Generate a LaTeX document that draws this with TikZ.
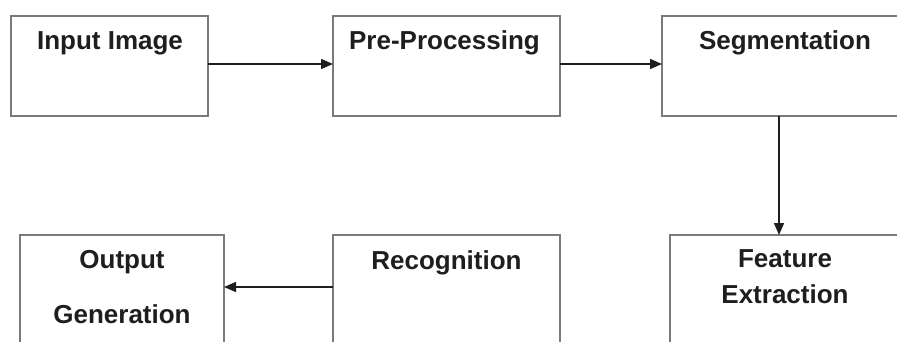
\documentclass[tikz,border=0pt]{standalone}
\usepackage{fontspec}
\setmainfont{Liberation Sans}
\usetikzlibrary{arrows.meta}
\definecolor{boxgray}{HTML}{7A7A7A}
\definecolor{inkc}{HTML}{1E1E1E}
\begin{document}
\begin{tikzpicture}[x=1pt,y=-1pt,
  box/.style={draw=boxgray, line width=1.6pt, inner sep=0pt, outer sep=0pt, fill=white},
  lbl/.style={anchor=base, inner sep=0pt, font=\fontsize{26}{30}\selectfont\bfseries, text=inkc},
  arr/.style={draw=inkc, line width=1.4pt, -{Triangle[length=12pt,width=10pt]}}]
\useasboundingbox (0,0) rectangle (897,342);
\fill[white] (0,0) rectangle (897,342);
\clip (0,0) rectangle (897,342);
% boxes
\node[box, minimum width=197pt, minimum height=100pt] (in)  at (109.5,66) {};
\node[box, minimum width=227pt, minimum height=100pt] (pre) at (446.5,66) {};
\node[box, minimum width=246pt, minimum height=100pt] (seg) at (785,66) {};
\node[box, minimum width=204pt, minimum height=130pt] (out) at (122,300) {};
\node[box, minimum width=227pt, minimum height=130pt] (rec) at (446.5,300) {};
\node[box, minimum width=230pt, minimum height=130pt] (feat) at (785,300) {};
% labels
\node[lbl] (tin)  at (110,50) {Input Image};
\node[lbl] (tpre) at (444.5,50) {Pre-Processing};
\node[lbl] (tseg) at (785,50) {Segmentation};
\node[lbl] (tout1) at (122,268) {Output};
\node[lbl] (tout2) at (122,323) {Generation};
\node[lbl] (trec) at (446.5,269) {Recognition};
\node[lbl] (tfe1) at (785,267) {Feature};
\node[lbl] (tfe2) at (785,303) {Extraction};
% connectors
\coordinate (y1) at (0,64);
\coordinate (xd) at (779,0);
\coordinate (y2) at (0,287);
\draw[arr] (in.east |- y1) -- (pre.west |- y1);
\draw[arr] (pre.east |- y1) -- (seg.west |- y1);
\draw[arr] (seg.south -| xd) -- (feat.north -| xd);
\draw[arr] (rec.west |- y2) -- (out.east |- y2);
\end{tikzpicture}
\end{document}
